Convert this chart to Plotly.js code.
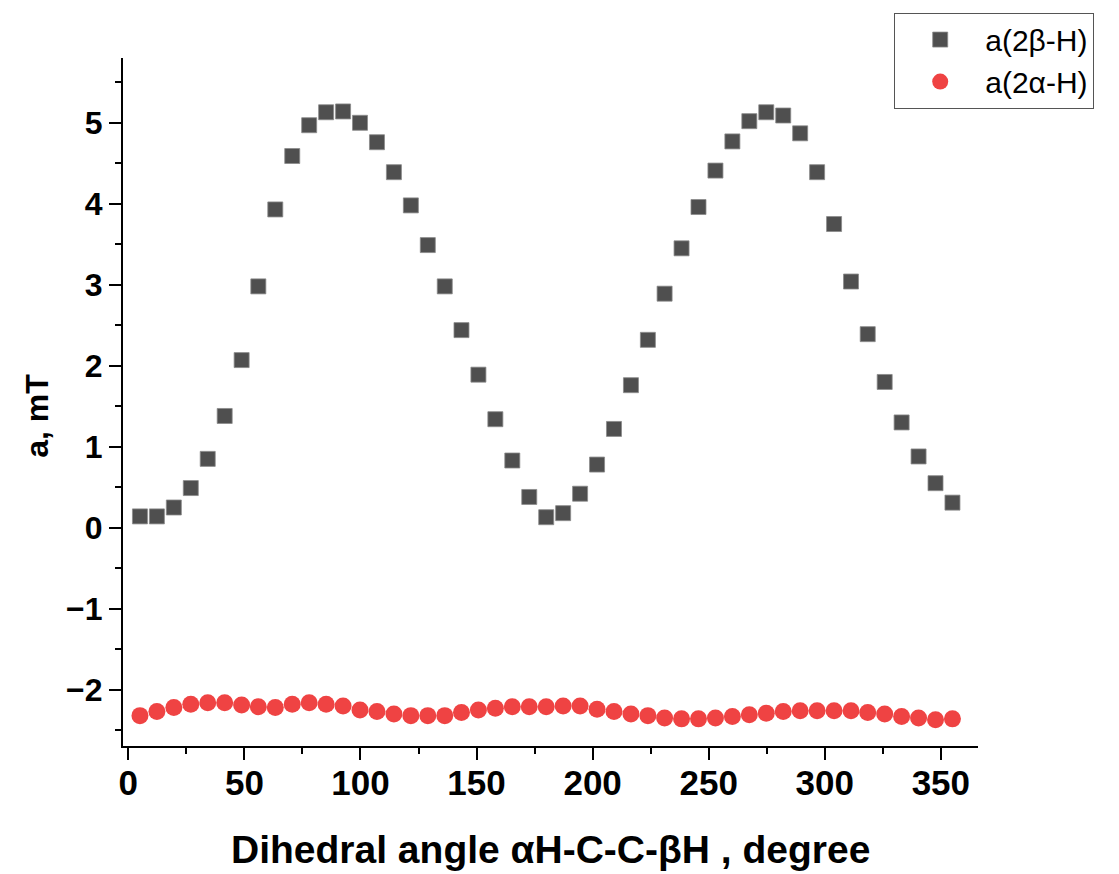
<!DOCTYPE html>
<html>
<head>
<meta charset="utf-8">
<script src="https://cdn.plot.ly/plotly-3.0.1.min.js"></script>
<style>html,body{margin:0;padding:0;background:#fff;}#chart{width:1119px;height:874px;}</style>
</head>
<body>
<div id="chart"></div>
<script>
// Dihedral angle (degree)
const angles = [5, 12.3, 19.6, 26.9, 34.2, 41.5, 48.8, 56.0, 63.3, 70.6, 77.9, 85.2, 92.5, 99.8,
  107.1, 114.4, 121.7, 129.0, 136.3, 143.5, 150.8, 158.1, 165.4, 172.7, 180.0, 187.3, 194.6,
  201.9, 209.2, 216.5, 223.8, 231.0, 238.3, 245.6, 252.9, 260.2, 267.5, 274.8, 282.1, 289.4,
  296.7, 304.0, 311.3, 318.5, 325.8, 333.1, 340.4, 347.7, 355];
// a(2β-H), mT
const betaH = [0.14, 0.14, 0.25, 0.49, 0.85, 1.38, 2.07, 2.98, 3.93, 4.59, 4.97, 5.13, 5.14, 5.00,
  4.76, 4.39, 3.98, 3.49, 2.98, 2.44, 1.89, 1.34, 0.83, 0.38, 0.13, 0.18, 0.42, 0.78, 1.22,
  1.76, 2.32, 2.89, 3.45, 3.96, 4.41, 4.77, 5.02, 5.13, 5.09, 4.87, 4.39, 3.75, 3.04, 2.39,
  1.80, 1.30, 0.88, 0.55, 0.31];
// a(2α-H), mT
const alphaH = [-2.32, -2.27, -2.22, -2.18, -2.16, -2.16, -2.19, -2.21, -2.22, -2.18, -2.16, -2.18,
  -2.20, -2.25, -2.27, -2.30, -2.32, -2.32, -2.32, -2.28, -2.25, -2.23, -2.21, -2.21, -2.21,
  -2.20, -2.20, -2.24, -2.27, -2.30, -2.32, -2.35, -2.36, -2.36, -2.35, -2.33, -2.31, -2.29,
  -2.27, -2.26, -2.26, -2.26, -2.26, -2.28, -2.30, -2.33, -2.35, -2.37, -2.36];
const seriesNames = ['a(2β-H)', 'a(2α-H)'];
const xTitle = 'Dihedral angle αH-C-C-βH , degree';
const yTitle = 'a, mT';

const FONT = '"Liberation Sans", Arial, sans-serif';

const traces = [
  {x: angles, y: betaH, name: seriesNames[0], type: 'scatter', mode: 'markers',
   marker: {symbol: 'square', size: 15, color: '#4f4f4f', line: {color: '#8a8a8a', width: 0.8}}},
  {x: angles, y: alphaH, name: seriesNames[1], type: 'scatter', mode: 'markers',
   marker: {symbol: 'circle', size: 17, color: '#ef4343', line: {width: 0}}}
];

const axisCommon = {
  showgrid: false, zeroline: false, showline: true, linecolor: '#000', linewidth: 2,
  ticks: 'outside', ticklen: 12, tickwidth: 2, tickcolor: '#000', mirror: false
};

const layout = {
  width: 1119, height: 874,
  margin: {l: 123, r: 141, t: 58, b: 128, pad: 0},
  paper_bgcolor: '#fff', plot_bgcolor: '#fff',
  font: {family: FONT, color: '#000'},
  showlegend: true,
  legend: {
    x: 0.902, y: 1.066, xanchor: 'left', yanchor: 'top',
    bordercolor: '#555', borderwidth: 1, bgcolor: '#fff',
    font: {family: FONT, size: 30, color: '#000'},
    itemwidth: 80, tracegroupgap: 0
  },
  xaxis: Object.assign({}, axisCommon, {
    range: [-2.3, 366], dtick: 50, tick0: 0,
    tickfont: {family: FONT, size: 35, weight: 'bold', color: '#000'},
    ticklabelstandoff: -7,
    minor: {ticks: 'outside', dtick: 25, ticklen: 6, tickwidth: 2, tickcolor: '#000'}
  }),
  yaxis: Object.assign({}, axisCommon, {
    range: [-2.695, 5.80], dtick: 1, tick0: 0,
    tickfont: {family: FONT, size: 32, weight: 'bold', color: '#000'},
    minor: {ticks: 'outside', dtick: 0.5, ticklen: 6, tickwidth: 2, tickcolor: '#000'}
  }),
  annotations: [
    {text: xTitle, xref: 'paper', yref: 'paper', x: 0.5, y: -0.151, xanchor: 'center', yanchor: 'middle',
     showarrow: false, font: {family: FONT, size: 39, weight: 'bold', color: '#000'}},
    {text: yTitle, xref: 'paper', yref: 'paper', x: (37 - 123) / 855, y: 0.48, xanchor: 'center', yanchor: 'middle',
     textangle: -90, showarrow: false, font: {family: FONT, size: 32, weight: 'bold', color: '#000'}}
  ]
};

Plotly.newPlot('chart', traces, layout, {displayModeBar: false, staticPlot: true});
</script>
</body>
</html>
